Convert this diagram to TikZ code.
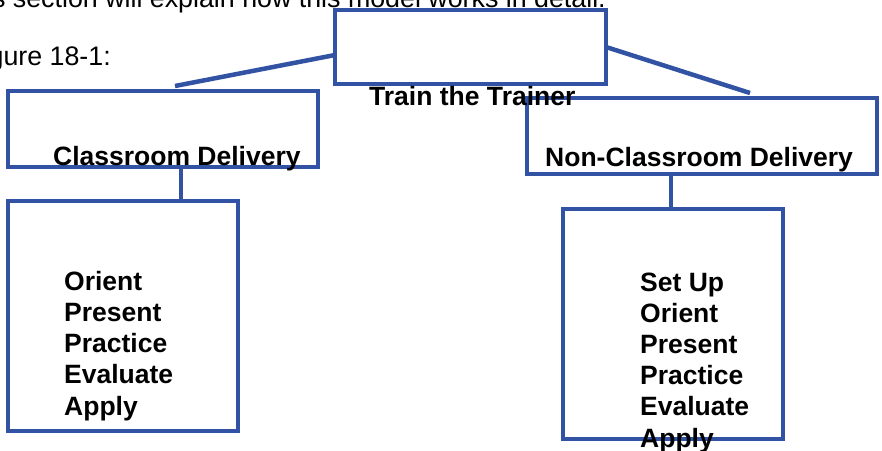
\documentclass[tikz,border=0pt]{standalone}
\usepackage{fontspec}
\setmainfont{Liberation Sans}
\definecolor{boxblue}{RGB}{50,82,164}
\tikzset{
  box/.style={draw=boxblue, line width=4.5pt, inner sep=0pt, outer sep=0pt},
  link/.style={draw=boxblue, line width=4.5pt},
  head/.style={inner sep=0pt, font=\fontsize{26.5}{31.2}\selectfont\bfseries},
  steps/.style={inner sep=0pt, align=left, font=\fontsize{26.5}{31.2}\selectfont\bfseries},
  body/.style={inner sep=0pt, font=\fontsize{26.8}{32}\selectfont}
}
\begin{document}
\begin{tikzpicture}[x=1pt, y=-1pt]

	\clip (0,0) rectangle (882,450);

	% running text above the chart
	\node[body, anchor=base east] (intro) at (606,7) {s section will explain how this model works in detail.};
	\node[body, anchor=base east] (figref) at (111,65) {gure 18-1:};

	% boxes
	\node[box, minimum width=271pt, minimum height=74pt] (train) at (470.5,47) {};
	\node[box, minimum width=310pt, minimum height=76pt] (classbox) at (163,129) {};
	\node[box, minimum width=350pt, minimum height=76pt] (nonclassbox) at (702,136) {};
	\node[box, minimum width=230pt, minimum height=230pt] (classlist) at (123,316) {};
	\node[box, minimum width=220pt, minimum height=230pt] (nonclasslist) at (673,324) {};

	% labels (base = last line)
	\node[head, anchor=base west] (traintext) at (369,105) {Train the Trainer};
	\node[head, anchor=base west] (classtext) at (53,165) {Classroom Delivery};
	\node[head, anchor=base west] (nonclasstext) at (545,166) {Non-Classroom Delivery};
	\node[steps, anchor=base west] (classsteps) at (64,415) {Orient\\Present\\Practice\\Evaluate\\Apply};
	\node[steps, anchor=base west] (nonclasssteps) at (640,447) {Set Up\\Orient\\Present\\Practice\\Evaluate\\Apply};

	% connectors
	\coordinate (leftend) at (175,86);
	\coordinate (rightend) at (750,93);
	\draw[link] ([yshift=-8pt]train.west) -- (leftend);
	\draw[link] (train.east) -- (rightend);
	\draw[link] ([xshift=18pt]classbox.south) -- ([xshift=58pt]classlist.north);
	\draw[link] ([xshift=-31pt]nonclassbox.south) -- ([xshift=-2pt]nonclasslist.north);

\end{tikzpicture}
\end{document}
